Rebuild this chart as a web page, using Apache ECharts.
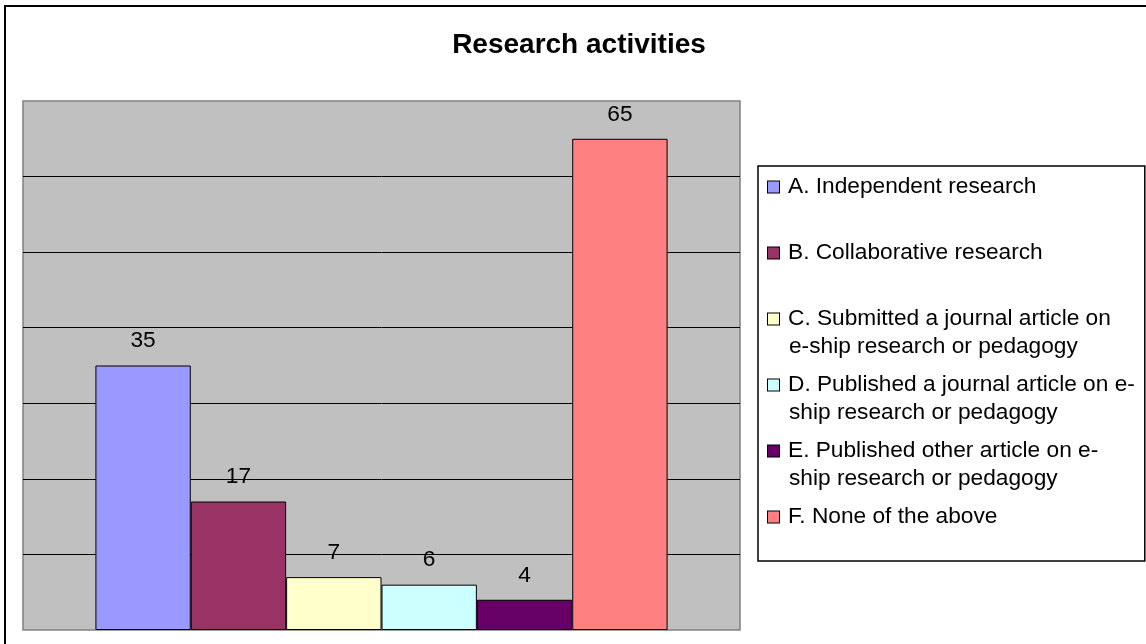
<!DOCTYPE html>
<html>
<head>
<meta charset="utf-8">
<script src="https://cdn.jsdelivr.net/npm/echarts@6/dist/echarts.min.js"></script>
</head>
<body style="margin:0;background:#fff">
<div id="container" style="width:1146px;height:644px"></div>
<script>
// data
var names = [
  'A. Independent research',
  'B. Collaborative research',
  'C. Submitted a journal article on\ne-ship research or pedagogy',
  'D. Published a journal article on e-\nship research or pedagogy',
  'E. Published other article on e-\nship research or pedagogy',
  'F. None of the above'
];
var values = [35, 17, 7, 6, 4, 65];
var colors = ['#9999FF', '#993366', '#FFFFCC', '#CCFFFF', '#660066', '#FF8080'];
var category = ['Research activities'];

var font = '"Liberation Sans", Arial, sans-serif';
var chart = echarts.init(document.getElementById('container'));

var rich = {
  gap: { width: 9, lineHeight: 28 },
  ind: { width: 21, lineHeight: 28 }
};
colors.forEach(function (c, i) {
  rich['m' + i] = {
    width: 11, height: 11, backgroundColor: c,
    borderColor: '#000', borderWidth: 1,
    verticalAlign: 'middle', lineHeight: 28
  };
});

var series = names.map(function (n, i) {
  return {
    type: 'bar',
    name: n,
    data: [values[i]],
    barGap: '0%',
    barCategoryGap: '20.2%',
    itemStyle: { color: colors[i], borderColor: '#000', borderWidth: 1 },
    label: {
      show: true, position: 'top', distance: 13,
      color: '#000', fontSize: 22.7, fontFamily: font
    },
    emphasis: { disabled: true },
    animation: false
  };
});

chart.setOption({
  animation: false,
  title: {
    text: 'Research activities',
    left: 579, top: 31, padding: 0,
    textAlign: 'center',
    textStyle: { fontSize: 28, fontWeight: 'bold', color: '#000', fontFamily: font }
  },
  graphic: [{
    type: 'rect',
    shape: { x: 5, y: 6, width: 1200, height: 700 },
    style: { fill: 'none', stroke: '#000', lineWidth: 2 },
    silent: true
  }],
  legend: {
    orient: 'vertical',
    left: 758, top: 166,
    padding: [7, 10, 2, 4],
    itemGap: 10,
    itemWidth: 0, itemHeight: 0,
    borderColor: '#000', borderWidth: 1.5,
    backgroundColor: '#fff',
    selectedMode: false,
    data: names,
    formatter: function (name) {
      var i = names.indexOf(name);
      var parts = name.split('\n');
      if (parts.length < 2) parts.push('');
      return '{m' + i + '|}{gap|}' + parts[0] + '\n{ind|}' + parts[1];
    },
    textStyle: { fontSize: 22.7, color: '#000', fontFamily: font, lineHeight: 28, rich: rich }
  },
  grid: {
    left: 23, top: 101, right: 406, bottom: 14,
    show: true, backgroundColor: '#C0C0C0',
    borderColor: '#808080', borderWidth: 1.5
  },
  xAxis: {
    type: 'category', data: category,
    axisLine: { show: false }, axisTick: { show: false }, axisLabel: { show: false }
  },
  yAxis: {
    type: 'value', min: 0, max: 70, interval: 10,
    axisLine: { show: false }, axisTick: { show: false }, axisLabel: { show: false },
    splitLine: { showMinLine: false, showMaxLine: false, lineStyle: { color: '#000', width: 1 } }
  },
  series: series
});
</script>
</body>
</html>
